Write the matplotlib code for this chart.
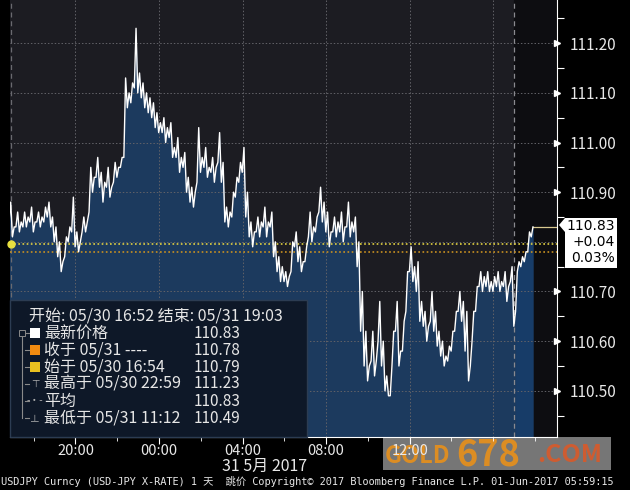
import numpy as np
import matplotlib
matplotlib.use('Agg')
from matplotlib import pyplot as plt
from matplotlib.patches import Rectangle, Polygon

plt.rcParams['font.family'] = ['Noto Sans CJK SC', 'DejaVu Sans']

# USDJPY ticks: close and lowest tick of every 10 min slot, starting 05/30 16:54
prices = [
    110.88, 110.83, 110.86, 110.84, 110.86, 110.85, 110.87, 110.84, 110.86, 110.85,
    110.87, 110.88, 110.85, 110.83, 110.80, 110.76, 110.81, 110.83, 110.89, 110.82,
    110.80, 110.85, 110.84, 110.95, 110.93, 110.97, 110.94, 110.92, 110.95, 110.91,
    110.96, 110.95, 110.97, 111.13, 111.10, 111.12, 111.23, 111.14, 111.12, 111.10,
    111.09, 111.08, 111.06, 111.04, 111.05, 111.03, 111.04, 110.99, 111.01, 110.97,
    110.98, 110.93, 110.91, 110.90, 111.03, 110.97, 110.99, 110.95, 110.97, 110.95,
    111.02, 110.96, 110.87, 110.86, 110.90, 110.93, 110.96, 110.99, 110.90, 110.84,
    110.82, 110.85, 110.84, 110.87, 110.84, 110.86, 110.80, 110.77, 110.75, 110.74,
    110.73, 110.80, 110.82, 110.79, 110.76, 110.79, 110.86, 110.83, 110.85, 110.91,
    110.88, 110.86, 110.82, 110.85, 110.84, 110.86, 110.83, 110.88, 110.84, 110.85,
    110.80, 110.70, 110.62, 110.55, 110.62, 110.56, 110.68, 110.60, 110.53, 110.49,
    110.62, 110.68, 110.58, 110.64, 110.74, 110.79, 110.75, 110.76, 110.68, 110.66,
    110.63, 110.70, 110.66, 110.62, 110.60, 110.57, 110.59, 110.62, 110.66, 110.70,
    110.68, 110.66, 110.55, 110.66, 110.71, 110.74, 110.73, 110.74, 110.72, 110.73,
    110.74, 110.72, 110.74, 110.71, 110.75, 110.66, 110.76, 110.77, 110.78, 110.82,
    110.83,
]
lows = [
    110.84, 110.81, 110.83, 110.82, 110.83, 110.83, 110.84, 110.82, 110.84, 110.83,
    110.84, 110.85, 110.83, 110.80, 110.77, 110.74, 110.77, 110.80, 110.82, 110.79,
    110.78, 110.82, 110.82, 110.86, 110.90, 110.93, 110.91, 110.88, 110.91, 110.89,
    110.92, 110.93, 110.95, 110.97, 111.07, 111.08, 111.11, 111.10, 111.09, 111.07,
    111.06, 111.05, 111.03, 111.02, 111.02, 111.00, 111.01, 110.97, 110.97, 110.94,
    110.95, 110.90, 110.88, 110.87, 110.92, 110.94, 110.95, 110.93, 110.94, 110.92,
    110.96, 110.92, 110.84, 110.83, 110.85, 110.89, 110.92, 110.94, 110.85, 110.81,
    110.79, 110.82, 110.81, 110.83, 110.81, 110.83, 110.77, 110.74, 110.72, 110.72,
    110.71, 110.74, 110.79, 110.76, 110.74, 110.76, 110.81, 110.80, 110.82, 110.86,
    110.84, 110.82, 110.79, 110.82, 110.81, 110.82, 110.80, 110.83, 110.81, 110.82,
    110.75, 110.62, 110.55, 110.52, 110.56, 110.53, 110.60, 110.55, 110.50, 110.49,
    110.55, 110.62, 110.55, 110.58, 110.66, 110.74, 110.72, 110.70, 110.64, 110.63,
    110.60, 110.64, 110.62, 110.59, 110.57, 110.55, 110.56, 110.58, 110.62, 110.66,
    110.64, 110.58, 110.52, 110.60, 110.66, 110.71, 110.70, 110.71, 110.70, 110.70,
    110.71, 110.70, 110.71, 110.68, 110.72, 110.63, 110.74, 110.75, 110.76, 110.78,
    110.81,
]
last_price = 110.83
close_prev = 110.78
open_price = 110.795

ytick_vals = [110.50, 110.60, 110.70, 110.90, 111.00, 111.10, 111.20]
xtick_labels = ['20:00', '00:00', '04:00', '08:00', '12:00']

legend_rows = [
    ('最新价格', '110.83', '#ffffff'),
    ('收于 05/31 ----', '110.78', '#f08a10'),
    ('始于 05/30 16:54', '110.79', '#e8c020'),
    ('最高于 05/30 22:59', '111.23', None),
    ('平均', '110.83', None),
    ('最低于 05/31 11:12', '110.49', None),
]
row_marks = ['', '', '', '⊤', '-•-', '⊥']

W, H = 630, 490


def fx(x):
    return x / W


def fy(y):
    return 1 - y / H


fig = plt.figure(figsize=(6.3, 4.9), dpi=100, facecolor='black')
ax = fig.add_axes([fx(10), fy(437), (557 - 10) / W, 437 / H])
ax.set_zorder(1)

# x in hours since 16:52; each slot: low tick then close
t_close = (2 + 10 * np.arange(len(prices))) / 60.0
t = np.column_stack([t_close - 5 / 60.0, t_close]).ravel()
p = np.column_stack([lows, prices]).ravel()
ymin, ymax = 110.407, 111.287
xmax = 26 + 11 / 60.0
ax.set_xlim(0, xmax)
ax.set_ylim(ymin, ymax)
ax.set_facecolor('#1c1c22')

t17 = 24 + 8 / 60.0  # 17:00 next day
ax.axvspan(t17, xmax, color='#0d0d11', zorder=0)

ax.fill_between(t, p, ymin, color='#1c3a5e', lw=0, zorder=1)
m = t >= t17
ax.fill_between(t[m], p[m], ymin, color='#173c68', lw=0, zorder=1)
ax.plot(t, p, color='white', lw=1.0, zorder=4)

# grid
for v in [110.5, 110.6, 110.7, 110.8, 110.9, 111.0, 111.1, 111.2]:
    ax.axhline(v, color='#626268', lw=0.7, ls=(0, (1.5, 2)), zorder=2)
hour_pos = [3 + 8 / 60.0 + 4 * k for k in range(6)]
for h in hour_pos:
    ax.axvline(h, color='#626268', lw=0.7, ls=(0, (1.5, 2)), zorder=2)
ax.axvline(t17, color='#8a8a90', lw=0.9, ls=(0, (4, 3)), zorder=2)
ax.axvline(0.05, color='#6a6a70', lw=0.9, ls=(0, (4, 3)), zorder=2)

# price reference lines
ax.axhline(open_price, color='#e0d040', lw=1.2, ls=(0, (1, 1.5)), zorder=3)
ax.axhline(close_prev, color='#c89020', lw=1.2, ls=(0, (1, 1.5)), zorder=3)
ax.plot([0.05], [open_price], 'o', color='#e8e040', ms=5, zorder=5, clip_on=False)
ax.plot([t[-1], xmax], [last_price, last_price], color='#d8c890', lw=0.9, zorder=3)

# axes frame
for s in ['top', 'left']:
    ax.spines[s].set_visible(False)
ax.spines['right'].set_color('white')
ax.spines['bottom'].set_color('white')

ax.yaxis.tick_right()
ax.set_yticks(ytick_vals)
ax.set_yticklabels(['%.2f' % v for v in ytick_vals])
ax.set_yticks([110.45, 110.55, 110.65, 110.75, 110.85, 110.95, 111.05, 111.15, 111.25], minor=True)
ax.tick_params(axis='y', which='major', length=0, pad=9, colors='#e8e8e8', labelsize=11)
ax.tick_params(axis='y', which='minor', length=5, color='white', width=0.8)
for v in ytick_vals:
    ax.plot([1.0], [v], marker='>', color='white', ms=5, transform=ax.get_yaxis_transform(),
            clip_on=False, zorder=6)

ax.set_xticks(hour_pos[:5])
ax.set_xticklabels(xtick_labels)
ax.set_xticks([1 + 8 / 60.0 + 2 * k for k in range(13)], minor=True)
ax.tick_params(axis='x', which='major', length=5, color='white', colors='#e8e8e8',
               labelsize=10.5, pad=0)
ax.tick_params(axis='x', which='minor', length=3, color='white')

fig.text(fx(265), fy(466), '31 5月 2017', color='#e8e8e8', fontsize=11.5,
         ha='center', va='center')

# last price label
box = Polygon([[fx(559), fy(225)], [fx(565), fy(218)], [fx(617), fy(218)],
               [fx(617), fy(268)], [fx(565), fy(268)], [fx(565), fy(232)]],
              closed=True, transform=fig.transFigure, facecolor='white', edgecolor='none',
              zorder=5)
fig.patches.append(box)
for i, s in enumerate(['110.83', '+0.04', '0.03%']):
    fig.text(fx(615), fy(226 + 16 * i), s, color='black', fontsize=10,
             ha='right', va='center', family=['DejaVu Sans'], zorder=6)

# legend panel
panel = Rectangle((fx(10), fy(437)), fx(297), 137 / H, transform=fig.transFigure,
                  facecolor='#0e1828', edgecolor='#2c3c52', lw=1, zorder=7)
fig.patches.append(panel)
fig.text(fx(29), fy(316), '开始: 05/30 16:52 结束: 05/31 19:03', color='#e6e6e6',
         fontsize=11.5, va='center', zorder=8)
fig.lines.append(plt.Line2D([fx(22), fx(22)], [fy(333), fy(418)], transform=fig.transFigure,
                            color='#8a8a8a', lw=0.8, zorder=8))
fig.patches.append(Rectangle((fx(19), fy(336)), fx(6), 6 / H, transform=fig.transFigure,
                             facecolor='#0e1828', edgecolor='#8a8a8a', lw=0.7, zorder=8))
for i, (lab, val, col) in enumerate(legend_rows):
    yy = 333 + 17 * i
    fig.lines.append(plt.Line2D([fx(25), fx(29)], [fy(yy), fy(yy)], transform=fig.transFigure,
                                color='#8a8a8a', lw=0.8, zorder=8))
    if col is not None:
        fig.patches.append(Rectangle((fx(30), fy(yy + 5)), fx(10), 10 / H,
                                     transform=fig.transFigure, facecolor=col,
                                     edgecolor='none', zorder=8))
    else:
        fig.text(fx(35), fy(yy), row_marks[i], color='#b0b0b0', fontsize=7,
                 ha='center', va='center', zorder=8)
    fig.text(fx(44), fy(yy), lab, color='#e6e6e6', fontsize=11.5, va='center', zorder=8)
    fig.text(fx(194), fy(yy), val, color='#e6e6e6', fontsize=11, va='center', zorder=8)

# footer
fig.text(fx(1), fy(481), 'USDJPY Curncy (USD-JPY X-RATE) 1 天  跳价 Copyright© 2017 '
         'Bloomberg Finance L.P. 01-Jun-2017 05:59:15', color='#e8e8e8', fontsize=7.4,
         va='center', family=['DejaVu Sans Mono', 'Noto Sans CJK SC'])

# watermark (behind the axes so the tick label shows through)
fig.patches.append(Rectangle((fx(383), fy(470)), fx(228), 33 / H, transform=fig.transFigure,
                             facecolor='#8c8c8c', alpha=0.85, edgecolor='none', zorder=0))
fig.text(fx(385), fy(456), 'GOLD', color='#e8901a', fontsize=17, fontweight='bold',
         va='center', zorder=0.5, alpha=0.9)
fig.text(fx(456), fy(455), '678', color='#e8901a', fontsize=26, fontweight='bold',
         va='center', zorder=0.5, alpha=0.9)
fig.text(fx(537), fy(455), '.COM', color='#d85a2a', fontsize=18, fontweight='bold',
         va='center', zorder=0.5, alpha=0.9)

fig.savefig('out.png', dpi=100, facecolor='black')
